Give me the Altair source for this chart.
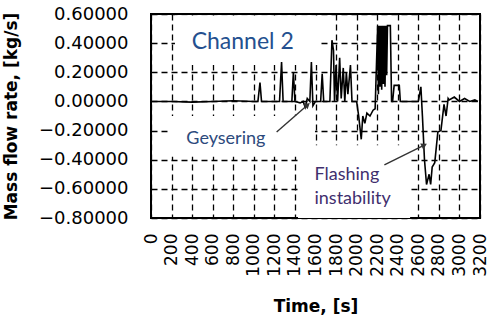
import altair as alt
import pandas as pd

# ---- data ----
time_s = [0, 200, 400, 600, 800, 1000, 1040, 1060, 1075, 1250, 1270, 1285, 1370, 1385, 1400,
          1450, 1480, 1500, 1520, 1545, 1560, 1575, 1600, 1650, 1665, 1680, 1740, 1760, 1775,
          1785, 1800, 1815, 1835, 1850, 1870, 1885, 1900, 1915, 1940, 1955, 2000, 2020, 2045,
          2060, 2080, 2100, 2130, 2160, 2180, 2195, 2205, 2212, 2220, 2228, 2236, 2244, 2252,
          2260, 2268, 2276, 2284, 2292, 2300, 2320, 2328, 2340, 2350, 2365, 2415, 2425, 2600,
          2625, 2640, 2660, 2680, 2705, 2720, 2735, 2760, 2790, 2820, 2850, 2870, 2890, 2900,
          2950, 3000, 3050, 3100, 3150, 3180]
flow = [0.0, 0.0, -0.005, 0.0, 0.005, 0.0, 0.0, 0.13, 0.0, 0.0, 0.27, 0.0, 0.0, 0.2, 0.0,
        -0.01, 0.0, -0.04, 0.02, 0.0, 0.27, -0.03, 0.0, 0.0, 0.19, 0.0, 0.0, 0.42, 0.35,
        0.0, 0.25, 0.0, 0.3, 0.02, 0.23, 0.0, 0.2, 0.05, 0.25, 0.0, 0.0, -0.1, -0.26,
        -0.1, -0.15, -0.08, -0.1, -0.06, -0.05, 0.3, 0.52, 0.05, 0.52, 0.1, 0.52, 0.08, 0.52,
        0.12, 0.52, 0.1, 0.52, 0.18, 0.52, 0.52, 0.52, 0.0, 0.0, 0.11, 0.11, 0.0, 0.0,
        0.1, -0.1, -0.4, -0.57, -0.5, -0.57, -0.45, -0.42, -0.21, -0.2, -0.02, -0.1, 0.02, 0.01,
        0.03, 0.0, 0.02, 0.0, 0.01, 0.0]

y_ticks = [-0.8, -0.6, -0.4, -0.2, 0.0, 0.2, 0.4, 0.6]
x_ticks = [0, 200, 400, 600, 800, 1000, 1200, 1400, 1600, 1800, 2000, 2200, 2400, 2600,
           2800, 3000, 3200]

label_text = ["Channel 2", "Geysering", "Flashing", "instability"]
label_t = [892, 728, 1590, 1590]
label_v = [0.41, -0.26, -0.505, -0.67]
label_size = [23, 18, 18, 18]
label_align = ["center", "center", "left", "left"]
label_color = ["#24508F", "#2C4A7C", "#3F2F6E", "#3F2F6E"]

# white text-box backgrounds (hide the grid behind the labels)
box_t0 = [233, 165, 1430]
box_t1 = [1644, 1595, 2520]
box_v0 = [0.25, -0.38, -0.80]
box_v1 = [0.59, -0.10, -0.30]

arrow_t0 = [1222, 2270]
arrow_v0 = [-0.21, -0.436]
arrow_t1 = [1523, 2658]
arrow_v1 = [-0.024, -0.30]
arrow_angle = [49, 63]

df = pd.DataFrame({"t": time_s, "v": flow})
lab = pd.DataFrame({"text": label_text, "t": label_t, "v": label_v})
box = pd.DataFrame({"t0": box_t0, "t1": box_t1, "v0": box_v0, "v1": box_v1})
arr = pd.DataFrame({"t0": arrow_t0, "v0": arrow_v0, "t1": arrow_t1, "v1": arrow_v1,
                    "ang": arrow_angle})

xscale = alt.Scale(domain=[0, 3200], nice=False, zero=False)
yscale = alt.Scale(domain=[-0.8, 0.6], nice=False, zero=False)

xaxis = alt.Axis(values=x_ticks, format="d", title="Time, [s]", labelAngle=-90,
                 labelFontSize=17, labelFont="DejaVu Sans", labelColor="black",
                 labelPadding=15, titleFont="DejaVu Sans", titleFontSize=17,
                 titleFontWeight="bold", titleColor="black", titlePadding=22, grid=True,
                 gridDash=[6, 4], gridColor="black", gridWidth=1.3, gridOpacity=1,
                 ticks=False, domain=False, labelOverlap=False, labelFlush=False,
                 labelBound=False)
yaxis = alt.Axis(values=y_ticks, format=".5f", title="Mass flow rate, [kg/s]",
                 labelFontSize=18, labelFont="DejaVu Sans", labelColor="black",
                 labelPadding=23, titleFont="DejaVu Sans", titleFontSize=17,
                 titleFontWeight="bold", titleColor="black", titlePadding=18, grid=True,
                 gridDash=[6, 4], gridColor="black", gridWidth=1.3, gridOpacity=1,
                 ticks=False, domain=False, labelOverlap=False, labelFlush=False,
                 labelBound=False)

boxes = alt.Chart(box).mark_rect(fill="white", stroke=None, opacity=1).encode(
    x=alt.X("t0:Q", scale=xscale, axis=xaxis), x2="t1:Q",
    y=alt.Y("v0:Q", scale=yscale, axis=yaxis), y2="v1:Q",
)

line = alt.Chart(df).mark_line(color="black", strokeWidth=1.6, clip=True).encode(
    x=alt.X("t:Q", scale=xscale, axis=xaxis),
    y=alt.Y("v:Q", scale=yscale, axis=yaxis),
)

texts = []
for i in range(len(label_text)):
    texts.append(
        alt.Chart(lab.iloc[[i]]).mark_text(
            font="Lato", fontSize=label_size[i], align=label_align[i], baseline="middle",
            color=label_color[i]
        ).encode(x=alt.X("t:Q", scale=xscale, axis=xaxis),
                 y=alt.Y("v:Q", scale=yscale, axis=yaxis), text="text:N")
    )

arrow_lines = alt.Chart(arr).mark_rule(color="#333333", strokeWidth=1.4).encode(
    x=alt.X("t0:Q", scale=xscale, axis=xaxis), y=alt.Y("v0:Q", scale=yscale, axis=yaxis),
    x2="t1:Q", y2="v1:Q"
)
arrow_heads = alt.Chart(arr).mark_point(shape="triangle-up", filled=True, size=45,
                                        color="#333333", opacity=1).encode(
    x=alt.X("t1:Q", scale=xscale, axis=xaxis), y=alt.Y("v1:Q", scale=yscale, axis=yaxis),
    angle=alt.Angle("ang:Q", scale=None)
)

chart = alt.layer(boxes, line, *texts, arrow_lines, arrow_heads).properties(
    width=329, height=204,
    autosize=alt.AutoSizeParams(type="none"),
    padding={"left": 151, "top": 14, "right": 11, "bottom": 113},
    background="white",
).configure_view(stroke="black", strokeWidth=2)

chart.save("out.html", embed_options={"renderer": "svg", "actions": False})
